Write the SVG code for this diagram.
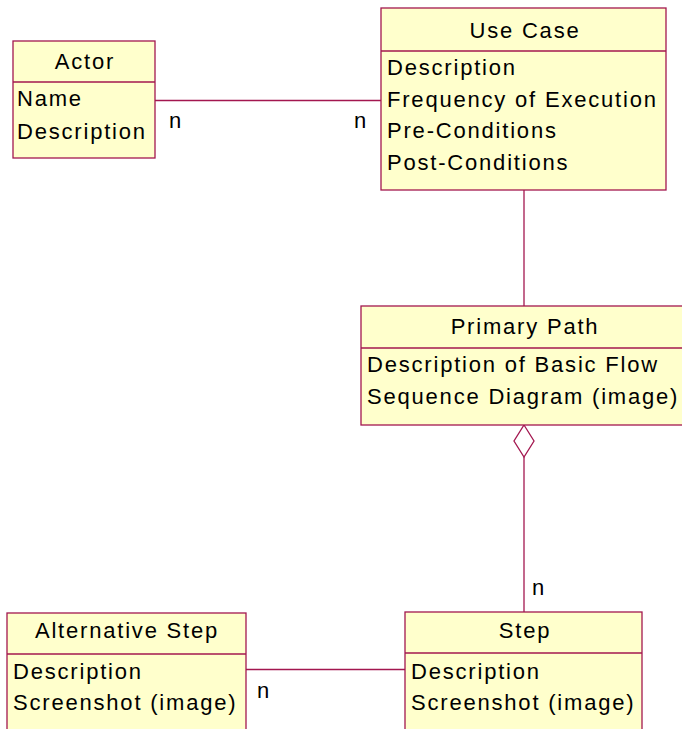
<svg xmlns="http://www.w3.org/2000/svg" width="682" height="729" viewBox="0 0 682 729">
  <style>
    .box { fill: #FFFFCC; stroke: #A3174F; stroke-width: 1.3; }
    .sep { stroke: #A3174F; stroke-width: 1.3; fill: none; }
    .link { stroke: #A3174F; stroke-width: 1.3; fill: none; }
    .diamond { fill: #FFFFFF; stroke: #A3174F; stroke-width: 1.3; }
    text { font-family: "Liberation Sans", Arial, sans-serif; font-size: 22px; fill: #000000; letter-spacing: 1.8px; }
    .title { text-anchor: middle; }
  </style>
  <rect width="682" height="729" fill="#FFFFFF"/>

  <!-- connectors -->
  <g id="connectors">
    <line class="link" x1="155" y1="100.5" x2="381" y2="100.5"/>
    <line class="link" x1="524" y1="190" x2="524" y2="306"/>
    <line class="link" x1="524" y1="457" x2="524" y2="612"/>
    <polygon class="diamond" points="524,425 534,441 524,457 514,441"/>
    <line class="link" x1="246" y1="669.5" x2="405" y2="669.5"/>
    <text x="169" y="128">n</text>
    <text x="354" y="128">n</text>
    <text x="532" y="595">n</text>
    <text x="257" y="698">n</text>
  </g>

  <!-- Actor -->
  <g id="actor">
    <rect class="box" x="13" y="41" width="142" height="117"/>
    <line class="sep" x1="13" y1="82" x2="155" y2="82"/>
    <text class="title" x="85" y="69">Actor</text>
    <text x="17" y="106">Name</text>
    <text x="17" y="139">Description</text>
  </g>

  <!-- Use Case -->
  <g id="use-case">
    <rect class="box" x="381" y="8" width="285" height="182"/>
    <line class="sep" x1="381" y1="51" x2="666" y2="51"/>
    <text class="title" x="525" y="38">Use Case</text>
    <text x="387" y="75">Description</text>
    <text x="387" y="107">Frequency of Execution</text>
    <text x="387" y="138">Pre-Conditions</text>
    <text x="387" y="170">Post-Conditions</text>
  </g>

  <!-- Primary Path -->
  <g id="primary-path">
    <rect class="box" x="361" y="306" width="340" height="119"/>
    <line class="sep" x1="361" y1="348" x2="701" y2="348"/>
    <text class="title" x="525" y="334">Primary Path</text>
    <text x="367" y="372">Description of Basic Flow</text>
    <text x="367" y="404">Sequence Diagram (image)</text>
  </g>

  <!-- Alternative Step -->
  <g id="alternative-step">
    <rect class="box" x="7" y="613" width="239" height="130"/>
    <line class="sep" x1="7" y1="654" x2="246" y2="654"/>
    <text class="title" x="127" y="638">Alternative Step</text>
    <text x="13" y="679">Description</text>
    <text x="13" y="710">Screenshot (image)</text>
  </g>

  <!-- Step -->
  <g id="step">
    <rect class="box" x="405" y="612" width="237" height="130"/>
    <line class="sep" x1="405" y1="653" x2="642" y2="653"/>
    <text class="title" x="525" y="638">Step</text>
    <text x="411" y="679">Description</text>
    <text x="411" y="710">Screenshot (image)</text>
  </g>
</svg>
